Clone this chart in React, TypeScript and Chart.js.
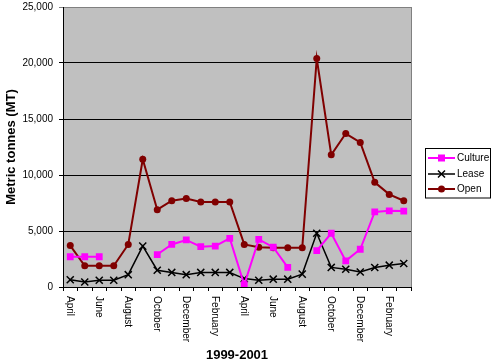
import React, { useEffect, useRef } from "react";
import { Chart, registerables } from "chart.js";

Chart.register(...registerables);

const months = [
  "April", "May", "June", "July", "August", "September", "October", "November", "December", "January", "February", "March",
  "April", "May", "June", "July", "August", "September", "October", "November", "December", "January", "February", "March",
];
const cultureValues = [2700, 2700, 2700, null, null, null, 2900, 3800, 4200, 3600, 3650, 4350, 200, 4250, 3550, 1750, null, 3250, 4800, 2330, 3370, 6700, 6800, 6780];
const leaseValues = [650, 450, 600, 600, 1100, 3650, 1500, 1300, 1100, 1300, 1300, 1300, 750, 600, 700, 700, 1150, 4800, 1750, 1580, 1340, 1740, 1950, 2100];
const openValues = [3700, 1900, 1900, 1900, 3800, 11400, 6900, 7700, 7900, 7600, 7600, 7600, 3800, 3550, 3500, 3500, 3500, 20400, 11800, 13700, 12900, 9350, 8270, 7700];
const yTicks = [0, 5000, 10000, 15000, 20000, 25000];
const seriesNames = ["Culture", "Lease", "Open"];
const xTitle = "1999-2001";
const yTitle = "Metric tonnes (MT)";

const FONT = '"Liberation Sans", Arial, sans-serif';
const colors = { Culture: "#FF00FF", Lease: "#000000", Open: "#800000" };

const excelPlugin = {
  id: "excelLook",
  beforeDraw(chart: any) {
    const { ctx, chartArea } = chart;
    ctx.save();
    ctx.fillStyle = "#ffffff";
    ctx.fillRect(0, 0, chart.width, chart.height);
    ctx.fillStyle = "#C0C0C0";
    ctx.fillRect(chartArea.left, chartArea.top, chartArea.right - chartArea.left, chartArea.bottom - chartArea.top);
    ctx.restore();
  },
  afterDraw(chart: any) {
    const { ctx, chartArea } = chart;
    const xs = chart.scales.x;
    ctx.save();
    // right border of plot
    ctx.strokeStyle = "#808080";
    ctx.lineWidth = 1;
    ctx.beginPath();
    ctx.moveTo(Math.round(chartArea.right) + 0.5, chartArea.top);
    ctx.lineTo(Math.round(chartArea.right) + 0.5, chartArea.bottom);
    ctx.stroke();

    // rotated x labels (reading top to bottom)
    ctx.fillStyle = "#000";
    ctx.font = `10px ${FONT}`;
    ctx.textAlign = "left";
    ctx.textBaseline = "middle";
    months.forEach((m, i) => {
      if (i % 2 !== 0) return;
      const x = xs.getPixelForValue(i);
      ctx.save();
      ctx.translate(x - 1, chartArea.bottom + 9);
      ctx.rotate(Math.PI / 2);
      ctx.fillText(m, 0, 0);
      ctx.restore();
    });

    // axis titles
    ctx.font = `bold 13px ${FONT}`;
    ctx.textAlign = "center";
    ctx.textBaseline = "middle";
    ctx.fillText(xTitle, (chartArea.left + chartArea.right) / 2, 355);
    ctx.save();
    ctx.translate(11, (chartArea.top + chartArea.bottom) / 2);
    ctx.rotate(-Math.PI / 2);
    ctx.fillText(yTitle, 0, 0);
    ctx.restore();

    // legend
    const bx = 425.5, by = 148.5, bw = 65, bh = 49.5;
    ctx.strokeStyle = "#000";
    ctx.lineWidth = 1;
    ctx.strokeRect(bx, by, bw, bh);
    const rows = [158, 174, 189];
    seriesNames.forEach((name, i) => {
      const y = rows[i];
      const c = (colors as any)[name];
      ctx.strokeStyle = c;
      ctx.lineWidth = name === "Lease" ? 1.5 : 2;
      ctx.beginPath();
      ctx.moveTo(428, y);
      ctx.lineTo(455, y);
      ctx.stroke();
      ctx.fillStyle = c;
      if (name === "Culture") {
        ctx.fillRect(438, y - 3.5, 7, 7);
      } else if (name === "Open") {
        ctx.beginPath();
        ctx.arc(441.5, y, 3.5, 0, Math.PI * 2);
        ctx.fill();
      } else {
        ctx.beginPath();
        ctx.moveTo(438, y - 3.5);
        ctx.lineTo(445, y + 3.5);
        ctx.moveTo(445, y - 3.5);
        ctx.lineTo(438, y + 3.5);
        ctx.stroke();
      }
      ctx.fillStyle = "#000";
      ctx.font = `10px ${FONT}`;
      ctx.textAlign = "left";
      ctx.textBaseline = "middle";
      ctx.fillText(name, 457, y + 0.5);
    });
    ctx.restore();
  },
};

export default function App() {
  const ref = useRef<HTMLCanvasElement | null>(null);
  useEffect(() => {
    if (!ref.current) return;
    const chart = new Chart(ref.current, {
      type: "line",
      data: {
        labels: months,
        datasets: [
          {
            label: "Culture",
            data: cultureValues,
            borderColor: colors.Culture,
            backgroundColor: colors.Culture,
            borderWidth: 2,
            pointStyle: "rect",
            pointRadius: 4.8,
            pointBorderWidth: 0,
            spanGaps: false,
            tension: 0,
          },
          {
            label: "Lease",
            data: leaseValues,
            borderColor: colors.Lease,
            backgroundColor: colors.Lease,
            borderWidth: 1.5,
            pointStyle: "crossRot",
            pointRadius: 5,
            pointBorderWidth: 1.5,
            tension: 0,
          },
          {
            label: "Open",
            data: openValues,
            borderColor: colors.Open,
            backgroundColor: colors.Open,
            borderWidth: 2,
            pointStyle: "circle",
            pointRadius: 3.5,
            pointBorderWidth: 0,
            tension: 0,
          },
        ],
      },
      options: {
        animation: false,
        responsive: false,
        devicePixelRatio: 1,
        layout: { padding: { left: 0, top: 7, right: 89, bottom: 0 } },
        plugins: { legend: { display: false }, tooltip: { enabled: false }, title: { display: false } },
        scales: {
          x: {
            type: "category",
            offset: true,
            afterFit: (s: any) => { s.height = 76; s.paddingLeft = 0; s.paddingRight = 0; },
            grid: { display: true, offset: true, drawOnChartArea: false, drawTicks: true, tickLength: 4, color: "#000", lineWidth: 1 },
            border: { display: true, color: "#000", width: 1 },
            ticks: { autoSkip: false, maxRotation: 0, minRotation: 0, callback: () => "", font: { size: 10, family: FONT } },
          },
          y: {
            min: 0,
            max: 25000,
            afterFit: (s: any) => { s.width = 63; s.paddingTop = 0; s.paddingBottom = 0; },
            afterBuildTicks: (s: any) => { s.ticks = yTicks.map((v) => ({ value: v })); },
            grid: {
              color: (c: any) => (c.tick && c.tick.value === 25000 ? "#808080" : "#000"),
              lineWidth: 1,
              tickLength: 4,
              drawTicks: true,
            },
            border: { display: true, color: "#000", width: 1 },
            ticks: {
              color: "#000",
              padding: 6,
              font: { size: 10, family: FONT },
              callback: (v: any) => Number(v).toLocaleString("en-US"),
            },
          },
        },
      },
      plugins: [excelPlugin],
    });
    return () => chart.destroy();
  }, []);
  return (
    <div style={{ position: "absolute", left: 0, top: 0, width: 500, height: 363 }}>
      <canvas ref={ref} width={500} height={363} style={{ width: 500, height: 363 }} />
    </div>
  );
}
